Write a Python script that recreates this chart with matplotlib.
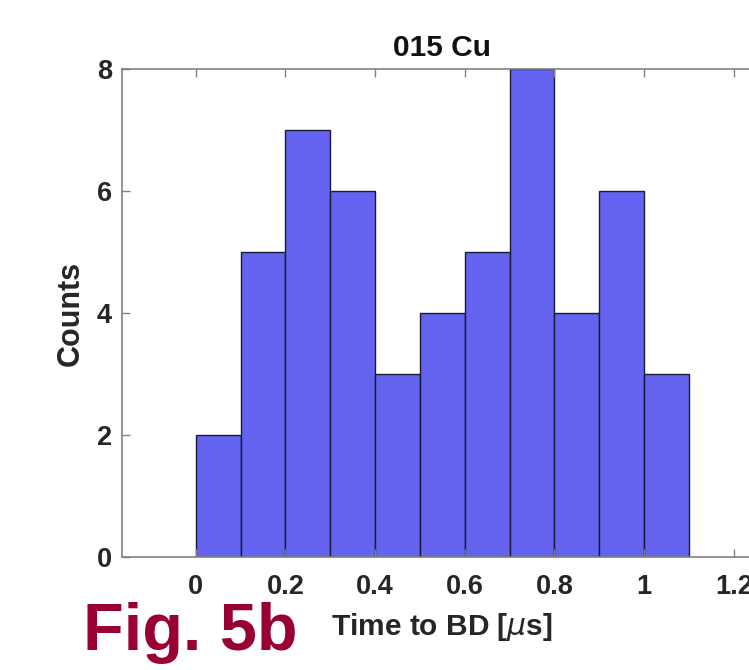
import numpy as np
import matplotlib
matplotlib.use("Agg")
import matplotlib.pyplot as plt

# histogram data (bin edges in microseconds, counts per bin)
bin_edges = [0.0, 0.1, 0.2, 0.3, 0.4, 0.5, 0.6, 0.7, 0.8, 0.9, 1.0, 1.1]
counts = [2, 5, 7, 6, 3, 4, 5, 8, 4, 6, 3]
x_ticks = [0, 0.2, 0.4, 0.6, 0.8, 1.0, 1.2]
x_tick_labels = ['0', '0.2', '0.4', '0.6', '0.8', '1', '1.2']
y_ticks = [0, 2, 4, 6, 8]

W, H = 749, 670
plt.rcParams['font.family'] = ['Liberation Sans', 'DejaVu Sans']
fig = plt.figure(figsize=(W / 100, H / 100), dpi=100)

# axes deliberately run past the right edge of the figure (cropped like the original)
left, right = 121.7, 763.0
top, bottom = 69.0, 557.0
ax = fig.add_axes([left / W, 1 - bottom / H, (right - left) / W, (bottom - top) / H])

ax.bar(bin_edges[:-1], counts, width=np.diff(bin_edges), align='edge',
       color='#6464F0', edgecolor='#1a1a33', linewidth=1.0)

ax.set_xlim(-0.165, 1.265)
ax.set_ylim(0, 8)
ax.set_xticks(x_ticks)
ax.set_xticklabels(x_tick_labels)
ax.set_yticks(y_ticks)

axis_gray = '#808080'
for side in ['left', 'bottom', 'top', 'right']:
    ax.spines[side].set_color(axis_gray)
    ax.spines[side].set_linewidth(1.2)
ax.tick_params(direction='in', length=6, width=1.0, color=axis_gray,
               top=True, right=True, labelsize=19.5, labelcolor='#262626')
ax.tick_params(axis='x', pad=12)
ax.tick_params(axis='y', pad=7)
for lbl in ax.get_xticklabels() + ax.get_yticklabels():
    lbl.set_fontweight('bold')

ax.set_title('015 Cu', fontsize=21.5, fontweight='bold', color='#111111', pad=9)
ax.set_ylabel('Counts', fontsize=22, fontweight='bold', color='#262626', labelpad=8)
ax.set_xlabel(r'Time to BD [$\mu$s]', fontsize=21.5, fontweight='bold', color='#262626', labelpad=8)

fig.text(83 / W, 1 - 650 / H, 'Fig. 5b', fontsize=48, color='#990033',
         fontweight='bold', ha='left', va='baseline')

fig.savefig('out.png', dpi=100)
